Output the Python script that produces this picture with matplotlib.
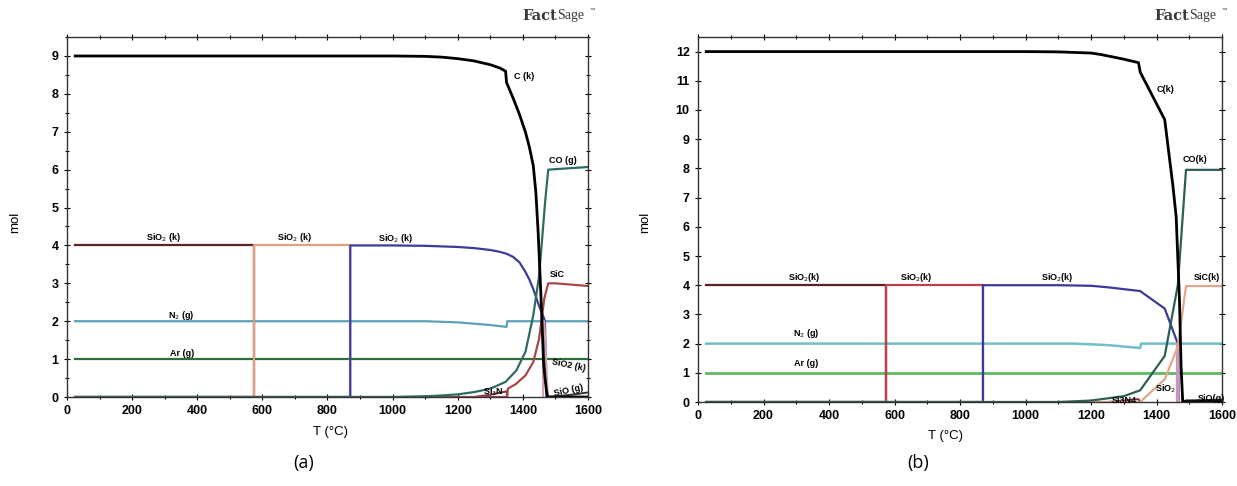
import matplotlib.pyplot as plt
from matplotlib.ticker import MultipleLocator

plt.rcParams['font.family'] = ['Liberation Sans', 'DejaVu Sans']

# ---------------- panel (a) data ----------------
a_c_T = [25, 1000, 1100, 1150, 1200, 1250, 1300, 1330, 1347, 1350, 1371, 1390, 1408, 1420, 1432, 1440, 1447, 1456, 1464, 1472, 1476, 1600]
a_c_y = [9.0, 9.0, 8.99, 8.97, 8.93, 8.87, 8.77, 8.68, 8.6, 8.3, 7.87, 7.45, 6.99, 6.6, 6.11, 5.4, 4.35, 2.6, 0.84, 0.2, 0.0, 0.0]

a_sio2_1_T = [25, 575, 575]
a_sio2_1_y = [4.0, 4.0, 0.0]
a_sio2_2_T = [25, 575, 575, 870, 870]
a_sio2_2_y = [0.0, 0.0, 4.0, 4.0, 0.0]
a_sio2_3_T = [25, 870, 870, 1000, 1100, 1200, 1250, 1300, 1330, 1350, 1370, 1390, 1408, 1420, 1432, 1442, 1450, 1460, 1468, 1472]
a_sio2_3_y = [0.0, 0.0, 4.0, 4.0, 3.99, 3.96, 3.93, 3.88, 3.83, 3.78, 3.7, 3.55, 3.3, 3.1, 2.85, 2.6, 2.4, 2.2, 2.0, 0.0]
a_sio2_4_T = [1462, 1462, 1466, 1477]
a_sio2_4_y = [0.0, 2.0, 2.0, 0.0]

a_n2_T = [25, 1100, 1200, 1300, 1350, 1352, 1600]
a_n2_y = [2.0, 2.0, 1.97, 1.9, 1.85, 2.0, 2.0]
a_ar_T = [25, 1600]
a_ar_y = [1.0, 1.0]

a_co_T = [25, 1000, 1100, 1150, 1200, 1250, 1300, 1347, 1380, 1408, 1432, 1450, 1469, 1478, 1600]
a_co_y = [0.0, 0.0, 0.02, 0.04, 0.07, 0.13, 0.22, 0.4, 0.7, 1.19, 2.15, 3.2, 5.2, 6.0, 6.07]

a_si3n4_T = [25, 1250, 1300, 1350, 1352]
a_si3n4_y = [0.0, 0.0, 0.06, 0.15, 0.0]
a_sic_T = [25, 1352, 1354, 1380, 1408, 1432, 1450, 1466, 1478, 1500, 1600]
a_sic_y = [0.0, 0.0, 0.22, 0.35, 0.57, 0.92, 1.54, 2.6, 3.0, 3.0, 2.93]
a_sio_T = [1476, 1500, 1550, 1600]
a_sio_y = [0.0, 0.02, 0.06, 0.12]

# ---------------- panel (b) data ----------------
b_c_T = [25, 1000, 1100, 1200, 1230, 1300, 1345, 1350, 1425, 1450, 1460, 1470, 1475, 1480, 1600]
b_c_y = [12.0, 12.0, 11.99, 11.95, 11.9, 11.74, 11.62, 11.3, 9.67, 7.4, 6.34, 3.5, 1.2, 0.0, 0.0]

b_sio2_1_T = [25, 575, 575]
b_sio2_1_y = [4.0, 4.0, 0.0]
b_sio2_2_T = [25, 575, 575, 870, 870]
b_sio2_2_y = [0.0, 0.0, 4.0, 4.0, 0.0]
b_sio2_3_T = [25, 870, 870, 1100, 1200, 1250, 1350, 1425, 1465, 1468]
b_sio2_3_y = [0.0, 0.0, 4.0, 4.0, 3.98, 3.93, 3.8, 3.2, 2.0, 0.0]
b_sio2_4_T = [1462, 1462, 1466, 1468]
b_sio2_4_y = [0.0, 2.0, 2.0, 0.0]

b_n2_T = [25, 1150, 1250, 1350, 1353, 1600]
b_n2_y = [2.0, 2.0, 1.95, 1.85, 2.0, 2.0]
b_ar_T = [25, 1600]
b_ar_y = [1.0, 1.0]

b_co_T = [25, 1100, 1200, 1300, 1350, 1425, 1465, 1490, 1600]
b_co_y = [0.0, 0.0, 0.05, 0.2, 0.4, 1.58, 4.0, 7.95, 7.95]

b_si3n4_T = [25, 1250, 1345, 1350]
b_si3n4_y = [0.0, 0.0, 0.1, 0.0]
b_sic_T = [25, 1350, 1425, 1465, 1490, 1600]
b_sic_y = [0.0, 0.0, 0.78, 1.9, 3.97, 3.97]
b_sio_T = [1480, 1490, 1550, 1600]
b_sio_y = [0.0, 0.05, 0.06, 0.08]

fig = plt.figure(figsize=(12.37, 4.86), dpi=100)
axA = fig.add_axes([0.0542, 0.1831, 0.4211, 0.7407])
axB = fig.add_axes([0.5643, 0.1728, 0.4236, 0.7511])

lab = dict(fontsize=6.5, fontweight='bold', ha='center', va='center')

# panel (a)
axA.plot(a_ar_T, a_ar_y, color='#2e6e3a', lw=1.6)
axA.plot(a_n2_T, a_n2_y, color='#5aa0b8', lw=1.6)
axA.plot(a_sio2_1_T, a_sio2_1_y, color='#5c2222', lw=1.6)
axA.plot(a_sio2_2_T, a_sio2_2_y, color='#e0a080', lw=1.6)
axA.plot(a_sio2_3_T, a_sio2_3_y, color='#3c3c9c', lw=1.6)
axA.plot(a_sio2_4_T, a_sio2_4_y, color='#d8a0a8', lw=1.4)
axA.plot(a_si3n4_T, a_si3n4_y, color='#7a3040', lw=1.4)
axA.plot(a_sic_T, a_sic_y, color='#a84848', lw=1.6)
axA.plot(a_co_T, a_co_y, color='#2f6b62', lw=1.6)
axA.plot(a_sio_T, a_sio_y, color='#333333', lw=1.4)
axA.plot(a_c_T, a_c_y, color='black', lw=2.0)

axA.text(295, 4.22, 'SiO$_2$ (k)', **lab)
axA.text(700, 4.22, 'SiO$_2$ (k)', **lab)
axA.text(1009, 4.18, 'SiO$_2$ (k)', **lab)
axA.text(350, 2.15, 'N$_2$ (g)', **lab)
axA.text(354, 1.15, 'Ar (g)', **lab)
axA.text(1405, 8.45, 'C (k)', **lab)
axA.text(1523, 6.25, 'CO (g)', **lab)
axA.text(1505, 3.22, 'SiC', **lab)
axA.text(1540, 0.85, 'SiO2 (k)', rotation=-12, **lab)
axA.text(1540, 0.17, 'SiO (g)', rotation=12, **lab)
axA.text(1310, 0.14, 'Si$_3$N', **lab)

axA.set_xlim(0, 1600)
axA.set_ylim(0, 9.5)
axA.xaxis.set_major_locator(MultipleLocator(200))
axA.xaxis.set_minor_locator(MultipleLocator(100))
axA.yaxis.set_major_locator(MultipleLocator(1))
axA.yaxis.set_minor_locator(MultipleLocator(0.5))

# panel (b)
axB.plot(b_ar_T, b_ar_y, color='#60b860', lw=2.0)
axB.plot(b_n2_T, b_n2_y, color='#70c0c8', lw=1.8)
axB.plot(b_sio2_1_T, b_sio2_1_y, color='#5c2222', lw=1.6)
axB.plot(b_sio2_2_T, b_sio2_2_y, color='#c0404a', lw=1.6)
axB.plot(b_sio2_3_T, b_sio2_3_y, color='#3a3a9a', lw=1.6)
axB.plot(b_sio2_4_T, b_sio2_4_y, color='#c898b8', lw=1.4)
axB.plot(b_si3n4_T, b_si3n4_y, color='#7a3040', lw=1.4)
axB.plot(b_sic_T, b_sic_y, color='#e0a888', lw=1.6)
axB.plot(b_co_T, b_co_y, color='#2c5f55', lw=1.6)
axB.plot(b_sio_T, b_sio_y, color='#222222', lw=1.6)
axB.plot(b_c_T, b_c_y, color='black', lw=2.0)

axB.text(325, 4.28, 'SiO$_2$(k)', **lab)
axB.text(667, 4.28, 'SiO$_2$(k)', **lab)
axB.text(1098, 4.28, 'SiO$_2$(k)', **lab)
axB.text(331, 2.33, 'N$_2$ (g)', **lab)
axB.text(331, 1.33, 'Ar (g)', **lab)
axB.text(1428, 10.7, 'C(k)', **lab)
axB.text(1516, 8.3, 'CO(k)', **lab)
axB.text(1555, 4.25, 'SiC(k)', **lab)
axB.text(1428, 0.45, 'SiO$_2$', **lab)
axB.text(1567, 0.12, 'SiO(g)', **lab)
axB.text(1300, 0.06, 'Si3N4', **lab)

axB.set_xlim(0, 1600)
axB.set_ylim(0, 12.5)
axB.xaxis.set_major_locator(MultipleLocator(200))
axB.xaxis.set_minor_locator(MultipleLocator(100))
axB.yaxis.set_major_locator(MultipleLocator(1))

for ax in (axA, axB):
    for s in ax.spines.values():
        s.set_linewidth(1.0)
        s.set_color('#333333')
    ax.tick_params(which='both', direction='inout', top=True, right=True,
                   labelsize=9, width=0.8)
    ax.tick_params(which='major', length=4, pad=4)
    ax.tick_params(which='minor', length=2.5)
    for t in ax.get_xticklabels() + ax.get_yticklabels():
        t.set_fontweight('bold')

fig.text(15 / 1237, 1 - 222 / 486, 'mol', rotation=90, fontsize=9.5, ha='center', va='center')
fig.text(645 / 1237, 1 - 222 / 486, 'mol', rotation=90, fontsize=9.5, ha='center', va='center')
fig.text(330 / 1237, 1 - 432 / 486, 'T (°C)', fontsize=9.5, ha='center', va='center')
fig.text(946 / 1237, 1 - 436 / 486, 'T (°C)', fontsize=9.5, ha='center', va='center')
fig.text(304 / 1237, 1 - 463 / 486, '(a)', fontsize=13, ha='center', va='center', family='Open Sans')
fig.text(918 / 1237, 1 - 463 / 486, '(b)', fontsize=13, ha='center', va='center', family='Open Sans')

# FactSage marks
for xr in (557, 1189):
    fig.text(xr / 1237, 1 - 16 / 486, 'Fact', fontsize=10.5, fontweight='bold',
             ha='right', va='center', color='#3a3a3a', family='DejaVu Serif')
    fig.text(xr / 1237, 1 - 16 / 486, 'Sage', fontsize=10, ha='left', va='center',
             color='#3a3a3a', family='Liberation Serif')
    fig.text((xr + 33) / 1237, 1 - 10 / 486, '™', fontsize=4, ha='left', va='center',
             color='#3a3a3a')

fig.savefig('out.png', dpi=100)
